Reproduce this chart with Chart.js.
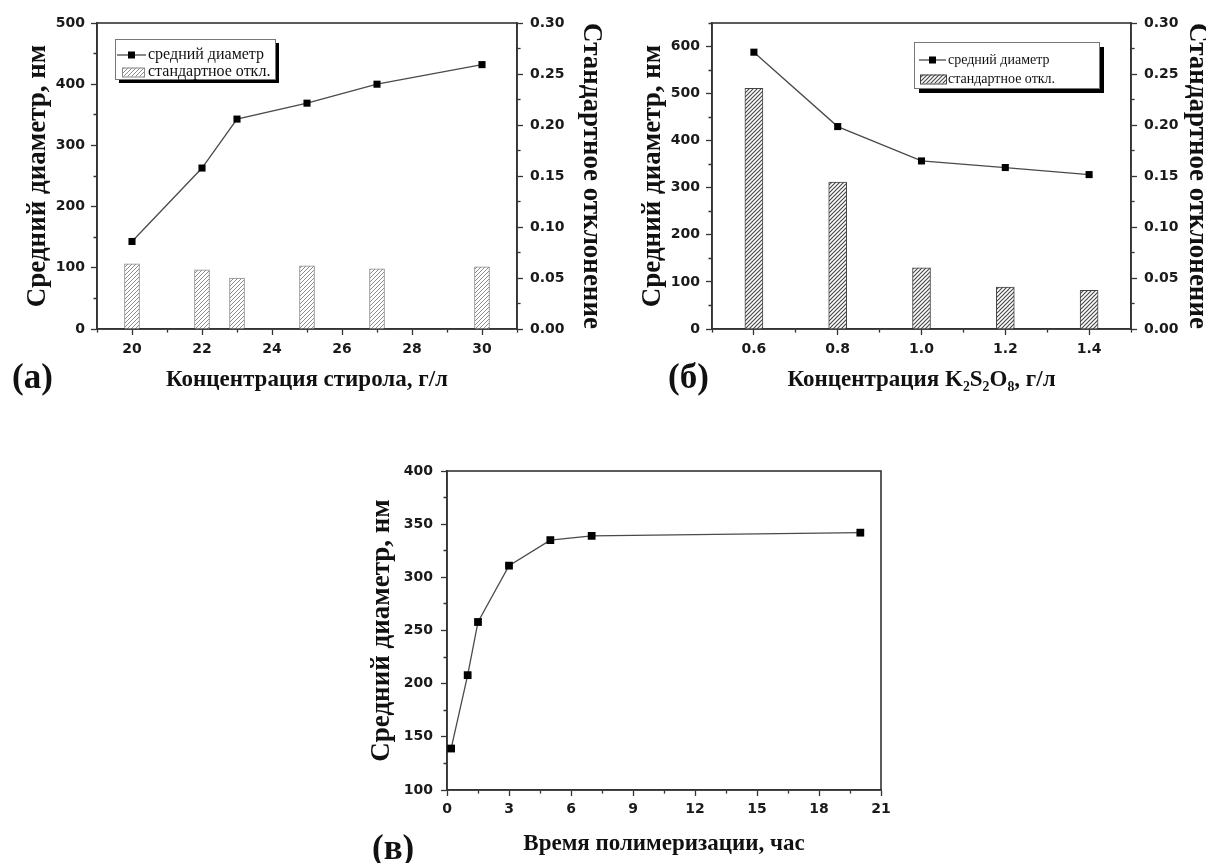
<!DOCTYPE html>
<html>
<head>
<meta charset="utf-8">
<script src="https://cdn.jsdelivr.net/npm/chart.js@4.4.1/dist/chart.umd.min.js"></script>
<style>
html,body{margin:0;padding:0;background:#fff;width:1206px;height:863px;overflow:hidden;position:relative}
canvas{position:absolute}
.lbl{position:absolute;font-family:"Liberation Serif","Times New Roman",serif;font-weight:bold;font-size:35px;line-height:1;color:#111;white-space:nowrap}
</style>
</head>
<body>
<canvas id="ca" width="610" height="400" style="left:0;top:0"></canvas>
<canvas id="cb" width="596" height="400" style="left:610px;top:0"></canvas>
<canvas id="cc" width="560" height="433" style="left:360px;top:430px"></canvas>
<div class="lbl" style="left:12px;top:359px">(а)</div>
<div class="lbl" style="left:668px;top:359px">(б)</div>
<div class="lbl" style="left:372px;top:830px">(в)</div>
<script>
// ---------- data ----------
const aConc = [20, 22, 23, 25, 27, 30];
const aDiam = [143, 263, 343, 369, 400, 432];
const aStd  = [0.064, 0.058, 0.050, 0.062, 0.059, 0.061];

const bConc = [0.6, 0.8, 1.0, 1.2, 1.4];
const bDiam = [588, 430, 357, 343, 328];
const bStd  = [0.236, 0.144, 0.060, 0.041, 0.038];

const cTime = [0.2, 1, 1.5, 3, 5, 7, 20];
const cDiam = [139, 208, 258, 311, 335, 339, 342];

const seriesLabels = ['средний диаметр', 'стандартное откл.'];
const yLeftTitle  = 'Средний диаметр, нм';
const yRightTitle = 'Стандартное отклонение';
const xTitleA = 'Концентрация стирола, г/л';
const xTitleB = 'Концентрация K₂S₂O₈, г/л';
const xTitleC = 'Время полимеризации, час';

const aXLabels = ['20', '22', '24', '26', '28', '30'];
const aYLabels = ['0', '100', '200', '300', '400', '500'];
const bXLabels = ['0.6', '0.8', '1.0', '1.2', '1.4'];
const bYLabels = ['0', '100', '200', '300', '400', '500', '600'];
const sdLabels = ['0.00', '0.05', '0.10', '0.15', '0.20', '0.25', '0.30'];
const cXLabels = ['0', '3', '6', '9', '12', '15', '18', '21'];
const cYLabels = ['100', '150', '200', '250', '300', '350', '400'];

// ---------- helpers ----------
const tickFont = { family: '"DejaVu Sans", sans-serif', weight: 'bold', size: 14 };
const yTitleFont = { family: '"Liberation Serif", "Times New Roman", serif', weight: 'bold', size: 27, lineHeight: 1 };
const xTitleFont = { family: '"Liberation Serif", "Times New Roman", serif', weight: 'bold', size: 23, lineHeight: 1 };

function hatch(lineColor, step, lw) {
  const c = document.createElement('canvas');
  c.width = step; c.height = step;
  const x = c.getContext('2d');
  x.fillStyle = '#fff';
  x.fillRect(0, 0, step, step);
  x.strokeStyle = lineColor;
  x.lineWidth = lw;
  x.beginPath();
  x.moveTo(0, step); x.lineTo(step, 0);
  x.moveTo(-step / 2, step / 2); x.lineTo(step / 2, -step / 2);
  x.moveTo(step / 2, step * 1.5); x.lineTo(step * 1.5, step / 2);
  x.stroke();
  return x.createPattern(c, 'repeat');
}

function labelFrom(list) {
  return v => {
    const m = list.find(s => Math.abs(parseFloat(s) - v) < 1e-6);
    return m === undefined ? '' : m;
  };
}

function linAxis(o) {
  const side = o.position;
  return {
    type: 'linear', position: side, min: o.min, max: o.max, offset: false,
    grid: {
      display: true, drawOnChartArea: false, drawTicks: true, tickLength: 6,
      color: '#333', tickColor: '#333', tickWidth: 1.3, offset: false,
      tickBorderDash: ctx => (ctx.tick && ctx.tick.label === '') ? (side === 'left' ? [0, 2.5, 3, 100] : [3, 100]) : []
    },
    border: { display: true, color: '#333', width: 1.6 },
    ticks: {
      stepSize: o.step, autoSkip: false, maxRotation: 0, minRotation: 0,
      padding: o.pad, font: tickFont, color: '#1a1a1a', callback: labelFrom(o.labels)
    },
    title: o.title ? { display: true, text: o.title, font: o.titleFont, color: '#111', padding: o.titlePad } : { display: false },
    afterFit: s => { if (side === 'bottom') s.height = o.size; else s.width = o.size; }
  };
}

const framePlugin = {
  id: 'frame',
  beforeDatasetsDraw(chart) {
    const a = chart.chartArea, c = chart.ctx;
    c.save();
    c.strokeStyle = '#333';
    c.lineWidth = 1.6;
    c.strokeRect(a.left, a.top, a.right - a.left, a.bottom - a.top);
    c.restore();
  }
};

const boxLegend = {
  id: 'boxLegend',
  afterDraw(chart, args, o) {
    if (!o || !o.show) return;
    const ctx = chart.ctx, a = chart.chartArea;
    const x = a.left + o.dx, y = a.top + o.dy;
    ctx.save();
    ctx.fillStyle = '#000';
    ctx.fillRect(x + o.shadow, y + o.shadow, o.w, o.h);
    ctx.fillStyle = '#fff';
    ctx.fillRect(x, y, o.w, o.h);
    ctx.strokeStyle = '#777';
    ctx.lineWidth = 1;
    ctx.strokeRect(x + 0.5, y + 0.5, o.w, o.h);
    ctx.font = o.fontSize + 'px "Liberation Serif", "Times New Roman", serif';
    ctx.textBaseline = 'middle';
    ctx.textAlign = 'left';
    chart.data.datasets.forEach((ds, i) => {
      const ry = y + o.rows[i];
      if (ds.type === 'line') {
        ctx.strokeStyle = ds.borderColor;
        ctx.lineWidth = ds.borderWidth;
        ctx.beginPath();
        ctx.moveTo(x + o.sample[0], ry);
        ctx.lineTo(x + o.sample[1], ry);
        ctx.stroke();
        const m = o.marker;
        ctx.fillStyle = ds.pointBackgroundColor;
        ctx.fillRect(x + (o.sample[0] + o.sample[1]) / 2 - m / 2, ry - m / 2, m, m);
      } else {
        const sw = o.swatch;
        ctx.fillStyle = ds.backgroundColor;
        ctx.fillRect(x + sw[0], ry - sw[2] / 2, sw[1] - sw[0], sw[2]);
        ctx.strokeStyle = ds.borderColor;
        ctx.lineWidth = 1;
        ctx.strokeRect(x + sw[0] + 0.5, ry - sw[2] / 2 + 0.5, sw[1] - sw[0], sw[2]);
      }
      ctx.fillStyle = '#111';
      ctx.fillText(ds.label, x + o.textX, ry);
    });
    ctx.restore();
  }
};

function pts(xs, ys) { return xs.map((x, i) => ({ x: x, y: ys[i] })); }

const baseOpts = {
  responsive: false, animation: false, devicePixelRatio: 1,
  events: []
};

// ---------- chart (a) ----------
new Chart(document.getElementById('ca'), {
  type: 'line',
  data: {
    datasets: [
      { type: 'line', label: seriesLabels[0], data: pts(aConc, aDiam), yAxisID: 'y', order: 0,
        borderColor: '#4a4a4a', borderWidth: 1.3, tension: 0, pointStyle: 'rect', pointRadius: 5,
        pointBackgroundColor: '#000', pointBorderColor: '#000', pointBorderWidth: 0 },
      { type: 'bar', label: seriesLabels[1], data: pts(aConc, aStd), yAxisID: 'y1', order: 1,
        backgroundColor: hatch('#8c8c8c', 4, 1), borderColor: '#8a8a8a', borderWidth: 1, barThickness: 15 }
    ]
  },
  options: Object.assign({}, baseOpts, {
    layout: { padding: { left: 0, top: 23, right: 0, bottom: 0 } },
    scales: {
      x: linAxis({ position: 'bottom', min: 19, max: 31, step: 1, labels: aXLabels, pad: 6, size: 71,
                   title: xTitleA, titleFont: xTitleFont, titlePad: { top: 0, bottom: 8.5 } }),
      y: linAxis({ position: 'left', min: 0, max: 500, step: 50, labels: aYLabels, pad: 6, size: 97,
                   title: yLeftTitle, titleFont: yTitleFont, titlePad: { top: 25, bottom: 0 } }),
      y1: linAxis({ position: 'right', min: 0, max: 0.3, step: 0.025, labels: sdLabels, pad: 7, size: 93,
                   title: yRightTitle, titleFont: yTitleFont, titlePad: { top: 6, bottom: 0 } })
    },
    plugins: {
      legend: { display: false }, tooltip: { enabled: false },
      boxLegend: { show: true, dx: 18, dy: 16, w: 160, h: 40, shadow: 4, fontSize: 16,
                   rows: [16, 33], sample: [2, 31], marker: 7, swatch: [7, 29, 9], textX: 33 }
    }
  }),
  plugins: [framePlugin, boxLegend]
});

// ---------- chart (б) ----------
new Chart(document.getElementById('cb'), {
  type: 'line',
  data: {
    datasets: [
      { type: 'line', label: seriesLabels[0], data: pts(bConc, bDiam), yAxisID: 'y', order: 0,
        borderColor: '#4a4a4a', borderWidth: 1.3, tension: 0, pointStyle: 'rect', pointRadius: 5,
        pointBackgroundColor: '#000', pointBorderColor: '#000', pointBorderWidth: 0 },
      { type: 'bar', label: seriesLabels[1], data: pts(bConc, bStd), yAxisID: 'y1', order: 1,
        backgroundColor: hatch('#4a4a4a', 4, 1.2), borderColor: '#444', borderWidth: 1, barThickness: 18 }
    ]
  },
  options: Object.assign({}, baseOpts, {
    layout: { padding: { left: 0, top: 23, right: 0, bottom: 0 } },
    scales: {
      x: linAxis({ position: 'bottom', min: 0.5, max: 1.5, step: 0.1, labels: bXLabels, pad: 6, size: 71,
                   title: xTitleB, titleFont: xTitleFont, titlePad: { top: 0, bottom: 8.5 } }),
      y: linAxis({ position: 'left', min: 0, max: 650, step: 50, labels: bYLabels, pad: 6, size: 102,
                   title: yLeftTitle, titleFont: yTitleFont, titlePad: { top: 30, bottom: 0 } }),
      y1: linAxis({ position: 'right', min: 0, max: 0.3, step: 0.025, labels: sdLabels, pad: 7, size: 75,
                   title: yRightTitle, titleFont: yTitleFont, titlePad: { top: -4, bottom: 0 } })
    },
    plugins: {
      legend: { display: false }, tooltip: { enabled: false },
      boxLegend: { show: true, dx: 202, dy: 19, w: 185, h: 46, shadow: 5, fontSize: 14,
                   rows: [18, 37], sample: [5, 32], marker: 7, swatch: [6, 32, 9], textX: 34 }
    }
  }),
  plugins: [framePlugin, boxLegend]
});

// ---------- chart (в) ----------
new Chart(document.getElementById('cc'), {
  type: 'line',
  data: {
    datasets: [
      { type: 'line', label: seriesLabels[0], data: pts(cTime, cDiam), yAxisID: 'y',
        borderColor: '#4a4a4a', borderWidth: 1.3, tension: 0, pointStyle: 'rect', pointRadius: 5.5,
        pointBackgroundColor: '#000', pointBorderColor: '#000', pointBorderWidth: 0 }
    ]
  },
  options: Object.assign({}, baseOpts, {
    layout: { padding: { left: 0, top: 41, right: 39, bottom: 0 } },
    scales: {
      x: linAxis({ position: 'bottom', min: 0, max: 21, step: 1.5, labels: cXLabels, pad: 5, size: 73,
                   title: xTitleC, titleFont: xTitleFont, titlePad: { top: 0, bottom: 7.5 } }),
      y: linAxis({ position: 'left', min: 100, max: 400, step: 25, labels: cYLabels, pad: 8, size: 87,
                   title: yLeftTitle, titleFont: yTitleFont, titlePad: { top: 9, bottom: 0 } })
    },
    plugins: { legend: { display: false }, tooltip: { enabled: false } }
  }),
  plugins: [framePlugin]
});
</script>
</body>
</html>
